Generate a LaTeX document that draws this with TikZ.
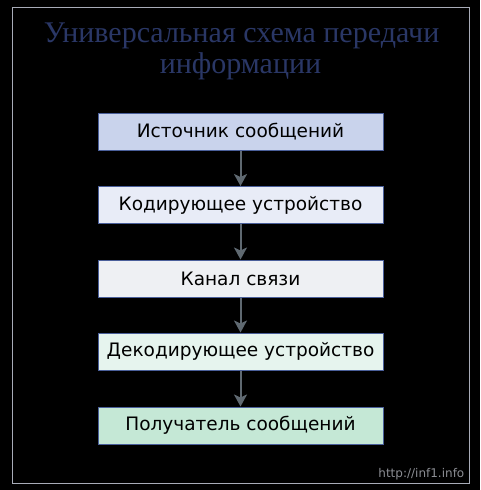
\documentclass[tikz,border=0pt]{standalone}
\usepackage{fontspec}
\setmainfont{Liberation Serif}
\newfontfamily\boxfont{DejaVu Sans}
\usepackage{tikz}
\usetikzlibrary{arrows.meta}

\definecolor{frameColor}{RGB}{168,172,184}
\definecolor{titleColor}{RGB}{42,55,102}
\definecolor{edgeColor}{RGB}{74,95,154}
\definecolor{arrowColor}{RGB}{95,105,113}
\definecolor{markColor}{RGB}{140,142,148}

\tikzset{
  stagebox/.style={draw=edgeColor, line width=1pt, minimum width=285pt, minimum height=37pt, inner sep=0pt, text=black, font=\boxfont\fontsize{18.5}{20}\selectfont},
  flowarrow/.style={-{Stealth[length=12pt,width=13pt,inset=3pt]}, line width=2pt, color=arrowColor}
}

\begin{document}
\begin{tikzpicture}[x=1pt,y=-1pt]
\fill[black] (0,0) rectangle (480,490);
\useasboundingbox (0,0) rectangle (480,490);
\draw[color=frameColor, line width=1pt] (12,7) rectangle (469.5,483.5);
% title
\node[anchor=base, text=titleColor, font=\fontsize{30}{31}\selectfont] (title a) at (241.5,42) {Универсальная схема передачи};
\node[anchor=base, text=titleColor, font=\fontsize{30}{31}\selectfont] (title b) at (240.5,73) {информации};
% stages
\definecolor{boxColor}{RGB}{201,211,236}
\node[stagebox, fill=boxColor] (source) at (240.5,131.5) {Источник сообщений};
\definecolor{boxColor}{RGB}{232,236,247}
\node[stagebox, fill=boxColor] (coder) at (240.5,205) {Кодирующее устройство};
\definecolor{boxColor}{RGB}{238,240,243}
\node[stagebox, fill=boxColor] (channel) at (240.5,278.5) {Канал связи};
\definecolor{boxColor}{RGB}{230,244,238}
\node[stagebox, fill=boxColor] (decoder) at (240.5,351.5) {Декодирующее устройство};
\definecolor{boxColor}{RGB}{197,232,214}
\node[stagebox, fill=boxColor] (receiver) at (240.5,425.5) {Получатель сообщений};
% arrows
\draw[flowarrow] (source.south) -- (coder.north);
\draw[flowarrow] (coder.south) -- (channel.north);
\draw[flowarrow] (channel.south) -- (decoder.north);
\draw[flowarrow] (decoder.south) -- (receiver.north);
\node[anchor=base east, inner sep=0pt, text=markColor, font=\boxfont\fontsize{12}{14}\selectfont] (site) at (464.5,477) {http://inf1.info};
\end{tikzpicture}
\end{document}
